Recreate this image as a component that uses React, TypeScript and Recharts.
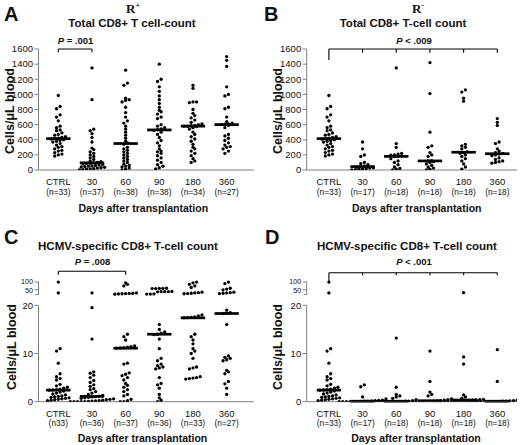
import React from 'react';
import { ScatterChart, Scatter, XAxis, YAxis, ReferenceLine } from 'recharts';

// ---------- data ----------
const CATEGORIES = ['CTRL', '30', '60', '90', '180', '360'];
const N_A = ['n=33', 'n=37', 'n=38', 'n=38', 'n=34', 'n=27'];
const N_B = ['n=33', 'n=17', 'n=18', 'n=18', 'n=18', 'n=18'];
const N_C = ['n33', 'n=36', 'n=37', 'n=36', 'n=33', 'n=27'];
const N_D = ['n=33', 'n=17', 'n=18', 'n=18', 'n=18', 'n=18'];

const TICKS_TOTAL = [0, 200, 400, 600, 800, 1000, 1200, 1400, 1600];
const TICKS_HCMV = [0, 10, 20, 50, 100];

// Total CD8+ counts (cells/uL)
const CTRL_TOTAL = [985, 840, 810, 730, 700, 650, 580, 560, 530, 520, 490, 470, 460, 440, 430, 420, 415, 410, 400, 390, 380, 370, 350, 330, 310, 300, 280, 260, 250, 230, 210, 200, 185];
const A_D30 = [1350, 930, 540, 520, 480, 430, 370, 290, 270, 240, 220, 200, 180, 160, 140, 120, 110, 100, 95, 90, 85, 80, 70, 65, 60, 55, 50, 45, 40, 35, 30, 25, 20, 15, 10, 5, 0];
const A_D60 = [1320, 1150, 1120, 950, 930, 920, 900, 830, 760, 700, 650, 620, 580, 540, 500, 460, 420, 380, 360, 340, 300, 280, 260, 240, 220, 200, 180, 160, 140, 120, 100, 80, 60, 50, 40, 25, 10, 0];
const A_D90 = [1400, 1200, 1170, 1100, 1040, 980, 930, 880, 830, 790, 770, 740, 700, 680, 600, 580, 560, 545, 535, 525, 500, 470, 430, 390, 360, 320, 280, 250, 240, 220, 190, 160, 130, 100, 70, 50, 30, 15];
const A_D180 = [1120, 1080, 900, 900, 890, 800, 750, 720, 690, 660, 630, 610, 600, 590, 585, 580, 580, 575, 560, 540, 500, 470, 440, 410, 380, 340, 300, 280, 250, 220, 190, 150, 120, 100];
const A_D360 = [1500, 1450, 1370, 1100, 1000, 980, 830, 810, 700, 640, 620, 610, 605, 600, 590, 560, 470, 450, 420, 390, 360, 330, 310, 300, 280, 250, 220];
const A_MEDIANS = [415, 95, 350, 530, 580, 600];

const B_D30 = [370, 280, 200, 180, 100, 85, 70, 55, 45, 40, 30, 25, 20, 15, 10, 5, 0];
const B_D60 = [1350, 350, 300, 220, 210, 200, 195, 185, 180, 178, 150, 120, 100, 70, 40, 20, 10, 0];
const B_D90 = [1420, 1010, 500, 320, 300, 230, 200, 180, 125, 120, 110, 100, 80, 60, 40, 25, 10, 0];
const B_D180 = [1060, 1030, 950, 910, 340, 320, 300, 280, 240, 230, 220, 200, 180, 150, 120, 80, 40, 10];
const B_D360 = [680, 630, 590, 370, 350, 280, 250, 230, 220, 210, 200, 190, 160, 140, 120, 110, 100, 90];
const B_MEDIANS = [415, 45, 180, 120, 235, 215];

// HCMV-specific CD8+ counts (cells/uL)
const CTRL_HCMV = [100, 30, 11, 10.5, 8, 5.8, 5.2, 4.8, 4.5, 3.6, 3.3, 3.0, 2.8, 2.6, 2.5, 2.45, 2.4, 2.2, 2.0, 1.8, 1.6, 1.4, 1.2, 1.1, 1.0, 0.9, 0.8, 0.7, 0.6, 0.5, 0.4, 0.3, 0.2];
const C_D30 = [30, 19.5, 13, 6.2, 5.9, 5.5, 5.0, 4.4, 4.0, 3.5, 3.2, 2.7, 2.5, 2.1, 1.8, 1.5, 1.3, 1.15, 1.05, 1.0, 0.9, 0.8, 0.7, 0.6, 0.5, 0.4, 0.3, 0.2, 0.15, 0.1, 0.05, 0, 0, 0, 0, 0];
const C_D60 = [95, 85, 75, 30, 28, 27, 26, 25, 24, 22, 14, 13.5, 12.8, 11.6, 11.4, 11.3, 11.2, 11.15, 11.1, 8, 7.8, 6, 5.7, 5.4, 5.0, 4.5, 3.8, 3.4, 3.0, 2.5, 2.1, 1.5, 1.2, 0.5, 0.2, 0, 0];
const C_D90 = [60, 59, 59, 58, 58, 40, 39, 38, 38, 37, 24, 23, 23, 16, 15, 14.5, 14.2, 14.0, 13.9, 13, 11, 9, 8.5, 7.8, 7.5, 7.2, 7.0, 6.8, 5, 3.8, 3.5, 2.8, 1.5, 0.8, 0.3, 0];
const C_D180 = [100, 95, 85, 75, 65, 35, 32, 30, 28, 26, 25, 18, 17.8, 17.6, 17.5, 17.45, 17.4, 14, 13.5, 12.8, 12, 11, 10.5, 10, 9, 7.2, 7, 6.8, 5.2, 5.0, 4.9, 4.8, 4.7];
const C_D360 = [100, 90, 60, 55, 50, 35, 32, 30, 28, 26, 19, 18.5, 18.4, 18.3, 16, 9.5, 9.2, 9.0, 8.7, 8.5, 6.5, 6.2, 5.8, 4.2, 3.7, 2.8, 1.5];
const C_MEDIANS = [2.4, 1.1, 11.1, 14, 17.4, 18.3];

const D_D30 = [3.5, 3.1, 1.0, 0.6, 0.3, 0.25, 0.2, 0.15, 0.1, 0.1, 0.05, 0, 0, 0, 0, 0, 0];
const D_D60 = [13.2, 3.0, 1.5, 1.2, 1.0, 0.7, 0.4, 0.2, 0.1, 0.1, 0.05, 0, 0, 0, 0, 0, 0, 0];
const D_D90 = [10.5, 4.2, 2.0, 1.5, 1.2, 0.6, 0.4, 0.3, 0.2, 0.15, 0.1, 0.05, 0, 0, 0, 0, 0, 0];
const D_D180 = [32, 9.3, 7.8, 1.4, 1.0, 0.7, 0.5, 0.4, 0.35, 0.3, 0.25, 0.2, 0.1, 0.1, 0.05, 0, 0, 0];
const D_D360 = [10.8, 4.2, 0.6, 0.5, 0.3, 0.2, 0.15, 0.1, 0.1, 0.05, 0, 0, 0, 0, 0, 0, 0, 0];
const D_MEDIANS = [2.4, 0.1, 0.1, 0.2, 0.35, 0.1];

// ---------- styling / layout ----------
const FONT = '"Liberation Sans", Arial, Helvetica, sans-serif';
const SERIF = '"Liberation Serif", "Times New Roman", serif';
const GRAY = '#808080';
const INK = '#111';
const CAT_PX = 33.68;
const ROW_PX = 3.0;
const DOT_GAP_PX = 3.6;
const DOT_R = 1.65;
const MEDIAN_HALF = 12.2 / CAT_PX;
const X_AXIS_H = 40;
const Y_AXIS_W = 30;

// broken axis mapping for HCMV panels: linear 0-20, then compressed 20-100 segment
const SEG_START = 22.24;
const SEG_SLOPE = 0.0324;
const tLinear = (v: number) => v;
const tBroken = (v: number) => (v <= 20 ? v : SEG_START + (v - 20) * SEG_SLOPE);

type Bracket = { from: number; to: number; y: number; drops: { x: number; y: number }[] };

type PanelCfg = {
  left: number;
  top: number;
  width: number;
  height: number;
  margin: { top: number; right: number; bottom: number; left: number };
  xDomain: [number, number];
  yDomain: [number, number];
  yTicks: number[];
  tf: (v: number) => number;
  broken: boolean;
  values: number[][];
  medians: number[];
  nLabels: string[];
  bracket: Bracket;
};

function swarm(vals: number[], idx: number, tf: (v: number) => number, pxY: number) {
  const ys = vals.map(tf).sort((a, b) => a - b);
  const out: { x: number; y: number }[] = [];
  let i = 0;
  while (i < ys.length) {
    const start = ys[i];
    let j = i;
    while (j < ys.length && (ys[j] - start) * pxY < ROW_PX) j++;
    const row = ys.slice(i, j);
    const k = row.length;
    row.forEach((y, m) => {
      out.push({ x: idx + ((m - (k - 1) / 2) * DOT_GAP_PX) / CAT_PX, y });
    });
    i = j;
  }
  return out;
}

const Dot = (p: any) => (p.cx == null || p.cy == null ? null : <circle cx={p.cx} cy={p.cy} r={DOT_R} fill="#000" />);

function Panel({ cfg }: { cfg: PanelCfg }) {
  const plotH = cfg.height - cfg.margin.top - cfg.margin.bottom - X_AXIS_H;
  const pxY = plotH / (cfg.yDomain[1] - cfg.yDomain[0]);
  const points = cfg.values.flatMap((vals, i) => swarm(vals, i, cfg.tf, pxY));
  const tickVals = cfg.yTicks.map(cfg.tf);
  const labelFor = (tv: number) => {
    let best = 0;
    let d = Infinity;
    cfg.yTicks.forEach((t, i) => {
      const dd = Math.abs(tickVals[i] - tv);
      if (dd < d) {
        d = dd;
        best = t;
      }
    });
    return best;
  };
  const x0 = cfg.xDomain[0];

  const XTick = (p: any) => {
    const i = Math.round(p.payload.value);
    return (
      <g>
        <text x={p.x} y={p.y + 15.2} textAnchor="middle" fontSize={9.5} fill={INK} fontFamily={FONT}>
          {CATEGORIES[i]}
        </text>
        <text x={p.x} y={p.y + 24.7} textAnchor="middle" fontSize={8.3} fill={INK} fontFamily={FONT}>
          ({cfg.nLabels[i]})
        </text>
      </g>
    );
  };
  const YTick = (p: any) => {
    const v = labelFor(p.payload.value);
    const small = cfg.broken && v > 20;
    const dy = !small ? 3.3 : v >= 100 ? 1.9 : 3.3;
    return (
      <text x={p.x} y={p.y} dy={dy} textAnchor="end" fontSize={small ? 7.2 : 9.5} fill={INK} fontFamily={FONT}>
        {v}
      </text>
    );
  };

  const axisSegs = cfg.broken
    ? [
        <ReferenceLine key="ax1" ifOverflow="visible" stroke={GRAY} strokeWidth={1} segment={[{ x: x0, y: 0 }, { x: x0, y: 20 }]} />,
        <ReferenceLine key="ax2" ifOverflow="visible" stroke={GRAY} strokeWidth={1} segment={[{ x: x0, y: SEG_START }, { x: x0, y: cfg.tf(100) + 0.1 }]} />,
        <ReferenceLine
          key="ax3"
          ifOverflow="visible"
          stroke={GRAY}
          strokeWidth={1}
          segment={[{ x: x0 - 3 / CAT_PX, y: SEG_START }, { x: x0, y: SEG_START }]}
        />,
      ]
    : [];

  const medianLines = cfg.medians.map((m, i) => (
    <ReferenceLine
      key={'m' + i}
      ifOverflow="visible"
      stroke="#000"
      strokeWidth={2.7}
      segment={[{ x: i - MEDIAN_HALF, y: cfg.tf(m) }, { x: i + MEDIAN_HALF, y: cfg.tf(m) }]}
    />
  ));

  const b = cfg.bracket;
  const bracketLines = [
    <ReferenceLine key="bt" ifOverflow="visible" stroke="#000" strokeWidth={1.1} segment={[{ x: b.from, y: b.y }, { x: b.to, y: b.y }]} />,
    ...b.drops.map((d, i) => (
      <ReferenceLine key={'bd' + i} ifOverflow="visible" stroke="#000" strokeWidth={1.1} segment={[{ x: d.x, y: b.y }, { x: d.x, y: d.y }]} />
    )),
  ];

  return (
    <div style={{ position: 'absolute', left: cfg.left, top: cfg.top }}>
      <ScatterChart width={cfg.width} height={cfg.height} margin={cfg.margin}>
        <XAxis
          type="number"
          dataKey="x"
          domain={cfg.xDomain}
          allowDataOverflow
          ticks={[0, 1, 2, 3, 4, 5]}
          interval={0}
          tickLine={false}
          tickSize={0}
          tickMargin={0}
          height={X_AXIS_H}
          axisLine={{ stroke: GRAY, strokeWidth: 1 }}
          tick={XTick}
        />
        <YAxis
          type="number"
          dataKey="y"
          domain={cfg.yDomain}
          allowDataOverflow
          ticks={tickVals}
          interval={0}
          width={Y_AXIS_W}
          tickSize={4}
          tickMargin={1.5}
          tickLine={{ stroke: GRAY, strokeWidth: 1 }}
          axisLine={cfg.broken ? false : { stroke: GRAY, strokeWidth: 1 }}
          tick={YTick}
        />
        {axisSegs}
        {bracketLines}
        {medianLines}
        <Scatter data={points} isAnimationActive={false} shape={Dot} />
      </ScatterChart>
    </div>
  );
}

const dropsAll = (ctrl: number, rest: number) => [0, 1, 2, 3, 4, 5].map((x) => ({ x, y: x === 0 ? ctrl : rest }));

const PANELS: PanelCfg[] = [
  {
    left: 0,
    top: 0,
    width: 260,
    height: 222,
    margin: { top: 49, right: 6, bottom: 12, left: 8.5 },
    xDomain: [-0.588, 5.812],
    yDomain: [0, 1600],
    yTicks: TICKS_TOTAL,
    tf: tLinear,
    broken: false,
    values: [CTRL_TOTAL, A_D30, A_D60, A_D90, A_D180, A_D360],
    medians: A_MEDIANS,
    nLabels: N_A,
    bracket: { from: 0, to: 1, y: 1600, drops: [{ x: 0, y: 1556 }, { x: 1, y: 1556 }] },
  },
  {
    left: 260,
    top: 0,
    width: 260,
    height: 222,
    margin: { top: 49, right: 3, bottom: 12, left: 16.7 },
    xDomain: [-0.659, 5.585],
    yDomain: [0, 1600],
    yTicks: TICKS_TOTAL,
    tf: tLinear,
    broken: false,
    values: [CTRL_TOTAL, B_D30, B_D60, B_D90, B_D180, B_D360],
    medians: B_MEDIANS,
    nLabels: N_B,
    bracket: { from: 0, to: 5, y: 1600, drops: dropsAll(1455, 1551) },
  },
  {
    left: 0,
    top: 222,
    width: 260,
    height: 223,
    margin: { top: 44.76, right: 6, bottom: 3.3, left: 8.5 },
    xDomain: [-0.588, 5.812],
    yDomain: [0, 28],
    yTicks: TICKS_HCMV,
    tf: tBroken,
    broken: true,
    values: [CTRL_HCMV, C_D30, C_D60, C_D90, C_D180, C_D360],
    medians: C_MEDIANS,
    nLabels: N_C,
    bracket: { from: 0, to: 2, y: 27.06, drops: [{ x: 0, y: 26.36 }, { x: 2, y: 26.36 }] },
  },
  {
    left: 260,
    top: 222,
    width: 260,
    height: 223,
    margin: { top: 44.76, right: 3, bottom: 3.3, left: 16.7 },
    xDomain: [-0.659, 5.585],
    yDomain: [0, 28],
    yTicks: TICKS_HCMV,
    tf: tBroken,
    broken: true,
    values: [CTRL_HCMV, D_D30, D_D60, D_D90, D_D180, D_D360],
    medians: D_MEDIANS,
    nLabels: N_D,
    bracket: { from: 0, to: 5, y: 26.77, drops: dropsAll(24.84, 26.23) },
  },
];

function Overlay() {
  const bold = { fontFamily: FONT, fontWeight: 700, fill: INK } as const;
  const yLabel = (x: number, y: number) => (
    <text x={x} y={y} transform={`rotate(-90 ${x} ${y})`} textAnchor="middle" dominantBaseline="central" fontSize={12.5} {...bold}>
      Cells/μL blood
    </text>
  );
  const pText = (x: number, y: number, rest: string) => (
    <text x={x} y={y} textAnchor="middle" fontSize={9.5} {...bold}>
      <tspan fontStyle="italic">P</tspan>
      {rest}
    </text>
  );
  return (
    <svg width={520} height={445} style={{ position: 'absolute', left: 0, top: 0, pointerEvents: 'none' }}>
      <text x={4} y={21} fontSize={20} {...bold}>A</text>
      <text x={264} y={21} fontSize={20} {...bold}>B</text>
      <text x={4} y={244} fontSize={20} {...bold}>C</text>
      <text x={265} y={244} fontSize={20} {...bold}>D</text>

      <text x={133} y={12.7} textAnchor="middle" fontSize={13} fontFamily={SERIF} fontWeight={700} fill={INK}>
        R<tspan dy={-4.5} fontSize={8}>+</tspan>
      </text>
      <text x={418} y={12.7} textAnchor="middle" fontSize={13} fontFamily={SERIF} fontWeight={700} fill={INK}>
        R<tspan dy={-4.5} fontSize={8}>-</tspan>
      </text>

      <text x={132} y={26.5} textAnchor="middle" fontSize={11.5} {...bold}>Total CD8+ T cell-count</text>
      <text x={403} y={26.5} textAnchor="middle" fontSize={11.5} {...bold}>Total CD8+ T-cell count</text>
      <text x={128} y={249.5} textAnchor="middle" fontSize={11.5} {...bold}>HCMV-specific CD8+ T-cell count</text>
      <text x={407} y={249.5} textAnchor="middle" fontSize={11.5} {...bold}>HCMV-specific CD8+ T-cell count</text>

      {pText(75.5, 44, ' = .001')}
      {pText(414, 43.5, ' < .009')}
      {pText(92.5, 265, ' = .008')}
      {pText(414, 265, ' < .001')}

      {yLabel(10, 111)}
      {yLabel(277.5, 111)}
      {yLabel(12, 347)}
      {yLabel(277.5, 347)}

      <text x={143.3} y={212} textAnchor="middle" fontSize={10.5} {...bold}>Days after transplantation</text>
      <text x={416.7} y={212} textAnchor="middle" fontSize={10.5} {...bold}>Days after transplantation</text>
      <text x={142.5} y={442} textAnchor="middle" fontSize={10.5} {...bold}>Days after transplantation</text>
      <text x={416} y={442} textAnchor="middle" fontSize={10.5} {...bold}>Days after transplantation</text>
    </svg>
  );
}

export default function App() {
  return (
    <div style={{ position: 'absolute', left: 0, top: 0, width: 520, height: 445, background: '#fff', fontFamily: FONT, overflow: 'hidden' }}>
      {PANELS.map((cfg, i) => (
        <Panel key={i} cfg={cfg} />
      ))}
      <Overlay />
    </div>
  );
}
